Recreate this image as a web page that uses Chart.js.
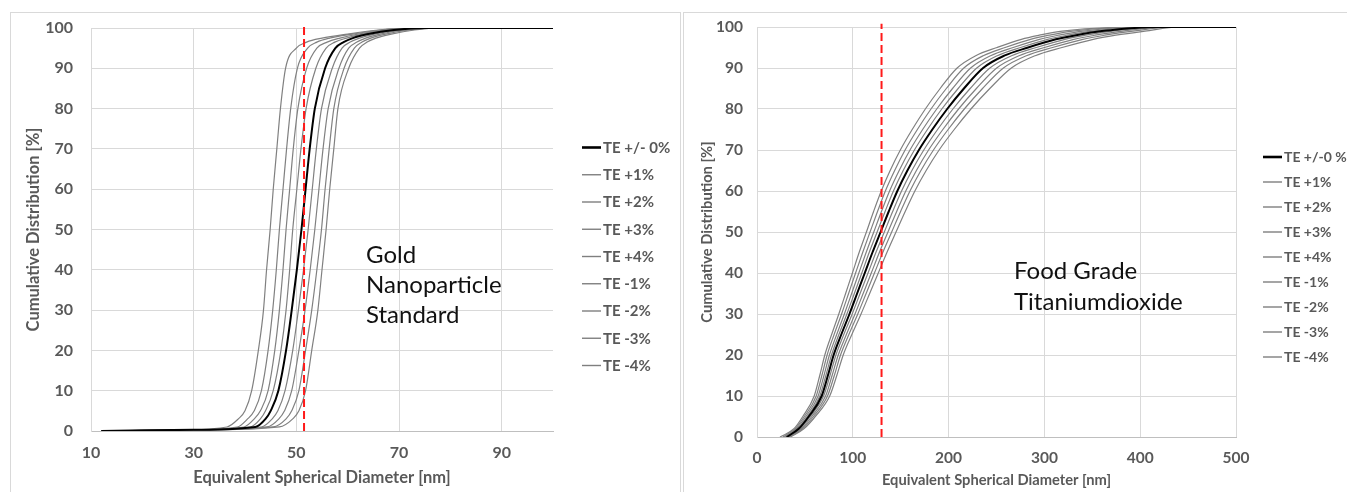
<!DOCTYPE html>
<html>
<head>
<meta charset="utf-8">
<title>Cumulative size distributions - TE variation</title>
<script src="https://cdn.jsdelivr.net/npm/chart.js@4.4.1/dist/chart.umd.min.js"></script>
<style>
    html, body { margin: 0; padding: 0; background: #fff; }
    body { width: 1347px; height: 492px; position: relative; overflow: hidden; }
    .frame { position: absolute; border: 1px solid #d9d9d9; box-sizing: border-box; }
    #frameL { left: 10px; top: 12px; width: 671px; height: 500px; }
    #frameR { left: 683px; top: 12px; width: 680px; height: 500px; }
    canvas { position: absolute; top: 0; }
    #goldChart { left: 0; }
    #tioChart { left: 680px; }
</style>
</head>
<body>
<div class="frame" id="frameL"></div>
<div class="frame" id="frameR"></div>
<canvas id="goldChart" width="680" height="492"></canvas>
<canvas id="tioChart" width="667" height="492"></canvas>

<script>
// ===================== DATA =====================
const seriesLabelsGold = ['TE +/- 0%', 'TE +1%', 'TE +2%', 'TE +3%', 'TE +4%', 'TE -1%', 'TE -2%', 'TE -3%', 'TE -4%'];
const seriesLabelsTio = ['TE +/-0 %', 'TE +1%', 'TE +2%', 'TE +3%', 'TE +4%', 'TE -1%', 'TE -2%', 'TE -3%', 'TE -4%'];

// Gold nanoparticle standard: cumulative level (%) and diameter (nm) where each curve reaches it
const goldLevels = [0, 0.3, 1, 3, 5, 10, 20, 30, 40, 50, 60, 70, 80, 90, 95, 96.5, 97.5, 98.5, 99.5, 100, 100];
const goldTE0  = [12, 30, 42, 44, 45, 46.5, 48, 49.1, 50.1, 51.0, 51.8, 52.6, 53.6, 55.6, 57.6, 59.2, 61, 64, 69, 75, 100];
const goldTEp1 = [12, 30, 41, 43, 44, 45.5, 47, 48, 48.7, 49.3, 50.1, 50.9, 51.9, 53.8, 55.8, 57.5, 59.8, 63, 68, 74, 100];
const goldTEp2 = [12, 29.5, 39.8, 41.8, 43, 44.5, 45.8, 46.7, 47.4, 48.0, 48.7, 49.4, 50.3, 52, 54, 56, 58.5, 62, 67.5, 73.5, 100];
const goldTEp3 = [12, 29, 38.5, 40.5, 41.8, 43.2, 44.5, 45.4, 46.1, 46.7, 47.4, 48.1, 48.9, 50.2, 52.2, 54, 56.5, 61, 66.5, 73, 100];
const goldTEp4 = [12, 28, 36.5, 38.7, 40, 41.3, 42.6, 43.6, 44.2, 44.9, 45.5, 46.2, 46.9, 47.9, 50, 52, 55, 60, 66, 72, 100];
const goldTEm1 = [12, 31, 43.2, 45.3, 46.4, 47.8, 49.3, 50.4, 51.4, 52.3, 53.1, 53.9, 54.9, 57, 58.9, 60.5, 62.3, 65.2, 70, 76, 100];
const goldTEm2 = [12, 31.5, 44.3, 46.6, 47.7, 49.1, 50.5, 51.7, 52.7, 53.6, 54.4, 55.2, 56.2, 58.3, 60.2, 61.8, 63.5, 66.3, 71, 76.5, 100];
const goldTEm3 = [12, 32, 45.5, 48, 49.1, 50.5, 51.8, 53, 54, 54.9, 55.6, 56.4, 57.3, 59.3, 61.3, 62.8, 64.5, 67.4, 72, 77, 100];
const goldTEm4 = [12, 33, 46.7, 49.3, 50.5, 51.8, 53, 54.2, 55, 55.8, 56.5, 57.3, 58.1, 60.2, 62.3, 63.8, 65.5, 68.5, 73, 78, 100];
const goldMarker = 51.5;
const goldXTicks = [10, 30, 50, 70, 90];

// Food grade titanium dioxide
const tioLevels = [0, 2, 5, 10, 15, 20, 25, 30, 35, 40, 45, 50, 55, 60, 65, 70, 75, 80, 85, 90, 93, 95, 97, 98, 99, 100, 100];
const tioTE0  = [31, 43.5, 54, 67.5, 74, 80, 88, 96.5, 104.5, 112.5, 120.5, 129, 137.5, 146.5, 157, 169, 183, 198.5, 216, 236, 258, 283, 312, 333, 360, 420, 500];
const tioTEp1 = [30, 42.3, 52.5, 65.6, 71.9, 77.8, 85.5, 93.8, 101.6, 109.4, 117.1, 125.4, 133.7, 142.4, 152.6, 164.3, 177.9, 192.9, 210, 229.4, 250.8, 275.1, 303.3, 323.7, 349.9, 415, 500];
const tioTEp2 = [28.5, 41.1, 51, 63.8, 69.9, 75.6, 83.2, 91.2, 98.8, 106.3, 113.9, 121.9, 129.9, 138.4, 148.4, 159.7, 172.9, 187.6, 204.1, 223, 243.8, 267.4, 294.8, 314.7, 340.2, 410, 500];
const tioTEp3 = [27, 39.8, 49.4, 61.8, 67.7, 73.2, 80.5, 88.3, 95.6, 102.9, 110.3, 118, 125.8, 134, 143.7, 154.6, 167.4, 181.6, 197.6, 215.9, 236.1, 258.9, 285.5, 304.7, 329.4, 405, 500];
const tioTEp4 = [24, 38.5, 47.8, 59.7, 65.5, 70.8, 77.9, 85.4, 92.5, 99.6, 106.6, 114.2, 121.7, 129.7, 139, 149.6, 162, 175.7, 191.2, 208.9, 228.3, 250.5, 276, 294.7, 318.6, 400, 500];
const tioTEm1 = [32, 44.8, 55.6, 69.5, 76.2, 82.4, 90.6, 99.4, 107.6, 115.9, 124.1, 132.9, 141.6, 150.9, 161.7, 174.1, 188.5, 204.5, 222.5, 243.1, 265.7, 291.5, 321.4, 343, 370.8, 425, 500];
const tioTEm2 = [33, 46.1, 57.2, 71.6, 78.4, 84.8, 93.3, 102.3, 110.8, 119.3, 127.7, 136.7, 145.8, 155.3, 166.4, 179.1, 194, 210.4, 229, 250.2, 273.5, 300, 330.7, 353, 381.6, 430, 500];
const tioTEm3 = [34, 47.4, 58.9, 73.6, 80.7, 87.2, 95.9, 105.2, 113.9, 122.6, 131.3, 140.6, 149.9, 159.7, 171.1, 184.2, 199.5, 216.4, 235.4, 257.2, 281.2, 308.5, 340.1, 363, 392.4, 435, 500];
const tioTEm4 = [35, 48.9, 60.8, 75.9, 83.3, 90, 99, 108.6, 117.6, 126.6, 135.6, 145.1, 154.7, 164.8, 176.6, 190.1, 205.9, 223.3, 243, 265.5, 290.3, 318.4, 351, 374.6, 405, 440, 500];
const tioMarker = 130;

const goldSeries = [goldTE0, goldTEp1, goldTEp2, goldTEp3, goldTEp4, goldTEm1, goldTEm2, goldTEm3, goldTEm4];
const tioSeries = [tioTE0, tioTEp1, tioTEp2, tioTEp3, tioTEp4, tioTEm1, tioTEm2, tioTEm3, tioTEm4];

// ===================== HELPERS =====================
const labelGrey = '#595959';
Chart.defaults.font.family = 'Lato, "Open Sans", sans-serif';

function curve(label, xs, levels, isRef) {
    return {
        label: label,
        data: xs.map((x, i) => ({ x: x, y: levels[i] })),
        borderColor: isRef ? '#000000' : '#808080',
        borderWidth: isRef ? 2 : 1.2,
        legendWidth: isRef ? 2.6 : 1.4,
        pointRadius: 0,
        showLine: true,
        cubicInterpolationMode: 'monotone',
        fill: false
    };
}

function markerLine(x) {
    return {
        label: '',
        marker: true,
        data: [{ x: x, y: 0 }, { x: x, y: 100.8 }],
        borderColor: '#ff1a1a',
        borderWidth: 2,
        borderDash: [8, 4],
        pointRadius: 0,
        showLine: true,
        tension: 0,
        clip: false,
        order: -1
    };
}

// legend to the right of the plot, one short line per series
const sideLegend = {
    id: 'sideLegend',
    afterDraw(chart, args, opts) {
        const ctx = chart.ctx;
        ctx.save();
        ctx.font = 'bold ' + opts.size + 'px ' + Chart.defaults.font.family;
        ctx.textBaseline = 'middle';
        ctx.textAlign = 'left';
        let y = opts.top;
        chart.data.datasets.forEach(ds => {
            if (ds.marker) return;
            ctx.strokeStyle = ds.borderColor === '#000000' ? '#000000' : '#7f7f7f';
            ctx.lineWidth = ds.legendWidth;
            ctx.beginPath();
            ctx.moveTo(opts.x, y);
            ctx.lineTo(opts.x + opts.lineLen, y);
            ctx.stroke();
            ctx.fillStyle = labelGrey;
            ctx.fillText(ds.label, opts.x + opts.lineLen + 2, y + 0.5);
            y += opts.step;
        });
        ctx.restore();
    }
};

// sample name written inside the plot
const panelNote = {
    id: 'panelNote',
    afterDraw(chart, args, opts) {
        const ctx = chart.ctx;
        ctx.save();
        ctx.font = opts.size + 'px ' + Chart.defaults.font.family;
        ctx.fillStyle = '#111111';
        ctx.textBaseline = 'middle';
        opts.lines.forEach((t, i) => ctx.fillText(t, opts.x, opts.y + i * opts.lineHeight));
        ctx.restore();
    }
};

function axisFont(size) {
    return { size: size, weight: 'bold' };
}

// ===================== GOLD CHART =====================
const goldDatasets = goldSeries.map((xs, i) => curve(seriesLabelsGold[i], xs, goldLevels, i === 0));
goldDatasets.push(markerLine(goldMarker));

new Chart(document.getElementById('goldChart'), {
    type: 'scatter',
    data: { datasets: goldDatasets },
    options: {
        responsive: false,
        animation: false,
        events: [],
        layout: { padding: { left: 0, right: 127, top: 28, bottom: 0 } },
        plugins: {
            legend: { display: false },
            tooltip: { enabled: false },
            sideLegend: { x: 582, top: 147.5, step: 27.25, lineLen: 19, size: 15 },
            panelNote: { x: 366, y: 255, lineHeight: 30, size: 24, lines: ['Gold', 'Nanoparticle', 'Standard'] }
        },
        scales: {
            x: {
                type: 'linear',
                min: 10,
                max: 100,
                afterBuildTicks: s => { s.ticks = goldXTicks.map(v => ({ value: v })); },
                afterFit: s => { s.height = 61; },
                grid: { color: '#d9d9d9', drawTicks: false },
                border: { color: '#bfbfbf' },
                ticks: { padding: 12.5, color: labelGrey, font: axisFont(16) },
                title: { display: true, text: 'Equivalent Spherical Diameter [nm]', color: labelGrey, font: axisFont(16.5), padding: { top: 0, bottom: 4 } }
            },
            y: {
                min: 0,
                max: 100,
                afterFit: s => { s.width = 91; },
                grid: { color: '#d9d9d9', drawTicks: false },
                border: { color: '#d9d9d9' },
                ticks: { stepSize: 10, padding: 18, color: labelGrey, font: axisFont(16) },
                title: { display: true, text: 'Cumulative Distribution [%]', color: labelGrey, font: axisFont(16.5), padding: { top: 24, bottom: 0 } }
            }
        }
    },
    plugins: [sideLegend, panelNote]
});

// ===================== TiO2 CHART =====================
const tioDatasets = tioSeries.map((xs, i) => curve(seriesLabelsTio[i], xs, tioLevels, i === 0));
tioDatasets.push(markerLine(tioMarker));

new Chart(document.getElementById('tioChart'), {
    type: 'scatter',
    data: { datasets: tioDatasets },
    options: {
        responsive: false,
        animation: false,
        events: [],
        layout: { padding: { left: 0, right: 111, top: 27, bottom: 0 } },
        plugins: {
            legend: { display: false },
            tooltip: { enabled: false },
            sideLegend: { x: 583, top: 157, step: 25, lineLen: 19, size: 14 },
            panelNote: { x: 334, y: 271, lineHeight: 31, size: 24, lines: ['Food Grade', 'Titaniumdioxide'] }
        },
        scales: {
            x: {
                type: 'linear',
                min: 0,
                max: 500,
                afterFit: s => { s.height = 55; },
                grid: { color: '#d9d9d9', drawTicks: false },
                border: { color: '#bfbfbf' },
                ticks: { stepSize: 100, padding: 11.5, color: labelGrey, font: axisFont(15.5) },
                title: { display: true, text: 'Equivalent Spherical Diameter [nm]', color: labelGrey, font: axisFont(14.7), padding: { top: 0, bottom: 3 } }
            },
            y: {
                min: 0,
                max: 100,
                afterFit: s => { s.width = 77; },
                grid: { color: '#d9d9d9', drawTicks: false },
                border: { color: '#d9d9d9' },
                ticks: { stepSize: 10, padding: 14, color: labelGrey, font: axisFont(15.5) },
                title: { display: true, text: 'Cumulative Distribution [%]', color: labelGrey, font: axisFont(14.7), padding: { top: 18, bottom: 0 } }
            }
        }
    },
    plugins: [sideLegend, panelNote]
});
</script>
</body>
</html>
